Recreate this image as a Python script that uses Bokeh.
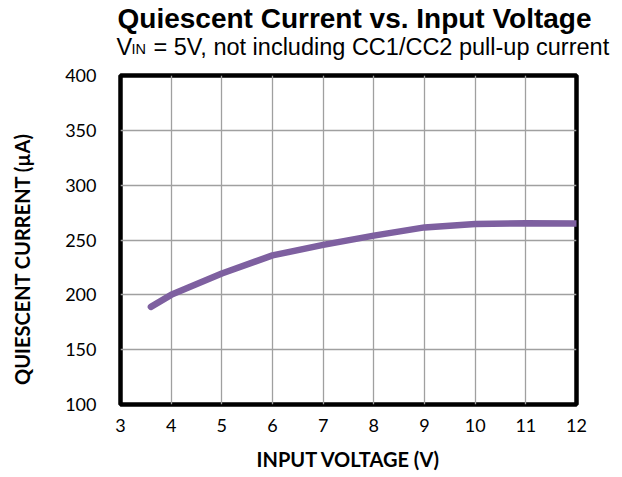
from bokeh.plotting import figure
from bokeh.models import Range1d, Label, FixedTicker
from bokeh.layouts import column, row
from bokeh.embed import file_html
from bokeh.resources import INLINE
import math

# ---- data ----
voltage = [3.6, 4, 5, 6, 7, 8, 9, 10, 11, 12]
current = [189, 200, 219.5, 236, 245.5, 254, 261.5, 264.5, 265.3, 265]
x_ticks = [3, 4, 5, 6, 7, 8, 9, 10, 11, 12]
y_ticks = [100, 150, 200, 250, 300, 350, 400]
title_text = "Quiescent Current vs. Input Voltage"
subtitle_v = "V"
subtitle_sub = "IN"
subtitle_rest = "= 5V, not including CC1/CC2 pull-up current"
x_label = "INPUT VOLTAGE (V)"
y_label = "QUIESCENT CURRENT (\u00b5A)"

TOTAL_W, TOTAL_H = 614, 473
HEAD_H = 64
LEFT_W = 40
MAIN_W, MAIN_H = TOTAL_W - LEFT_W, TOTAL_H - HEAD_H
BL, BR, BT, BB = 120 - LEFT_W, 38, 75 - HEAD_H, TOTAL_H - 404
XMIN, XMAX, YMIN, YMAX = 3, 12, 100, 400


def blank(w, h):
    f = figure(width=w, height=h, output_backend="svg", toolbar_location=None,
               title=None, x_range=Range1d(0, w), y_range=Range1d(0, h),
               x_axis_type=None, y_axis_type=None,
               min_border=0, min_border_left=0, min_border_right=0,
               min_border_top=0, min_border_bottom=0)
    f.outline_line_color = None
    f.xgrid.visible = False
    f.ygrid.visible = False
    f.background_fill_color = "white"
    f.border_fill_color = "white"
    return f


# ---- header (title + subtitle) ----
head = blank(TOTAL_W, HEAD_H)
HEAD_FIX = 8  # observed downward shift of header texts

def hlab(ix, iy, text, **kw):
    head.add_layout(Label(x=ix, y=HEAD_H - (iy - HEAD_FIX), text=text, text_color="black",
                          text_baseline="alphabetic", text_font="Liberation Sans", **kw))

hlab(117, 26, title_text, text_font_style="bold", text_font_size="28px")
hlab(116, 54, subtitle_v, text_font_size="23.5px")
hlab(131, 56, subtitle_sub, text_font_size="14.5px")
hlab(153, 54, subtitle_rest, text_font_size="23.5px")

# ---- left strip (y axis title) ----
left = blank(LEFT_W, MAIN_H)
LEFT_FIX = 32  # observed upward shift of the rotated title
left.add_layout(Label(x=21.5, y=MAIN_H - (260 + LEFT_FIX - HEAD_H), text=y_label,
                      angle=math.pi / 2, text_align="center", text_baseline="middle",
                      text_color="black", text_font="Lato", text_font_style="bold",
                      text_font_size="20px"))

# ---- main chart ----
p = figure(width=MAIN_W, height=MAIN_H, output_backend="svg", toolbar_location=None,
           title=None, x_range=Range1d(XMIN, XMAX), y_range=Range1d(YMIN, YMAX),
           min_border_left=BL, min_border_right=BR, min_border_top=BT, min_border_bottom=BB)
p.background_fill_color = "white"
p.border_fill_color = "white"
p.outline_line_color = "black"
p.outline_line_width = 4.5

p.xaxis.ticker = FixedTicker(ticks=x_ticks)
p.yaxis.ticker = FixedTicker(ticks=y_ticks)
for ax in (p.xaxis, p.yaxis):
    ax.axis_line_color = None
    ax.major_tick_line_color = None
    ax.minor_tick_line_color = None
    ax.major_label_text_font = "Lato"
    ax.major_label_text_font_size = "18px"
    ax.major_label_text_color = "black"
p.xaxis.major_label_standoff = 8
p.yaxis.major_label_standoff = 18

p.xaxis.axis_label = x_label
p.xaxis.axis_label_text_font = "Lato"
p.xaxis.axis_label_text_font_style = "bold"
p.xaxis.axis_label_text_font_size = "20px"
p.xaxis.axis_label_standoff = 12
p.xaxis.axis_label_text_color = "black"

for g in (p.xgrid, p.ygrid):
    g.grid_line_color = "#a0a0a0"
    g.grid_line_width = 1.3
p.xgrid.ticker = FixedTicker(ticks=x_ticks)
p.ygrid.ticker = FixedTicker(ticks=y_ticks)

p.line(voltage, current, line_color="#7E60A0", line_width=6.5, line_cap="round", line_join="round")

layout = column(head, row(left, p, spacing=0), spacing=0)
open("out.html", "w").write(file_html(layout, INLINE))
